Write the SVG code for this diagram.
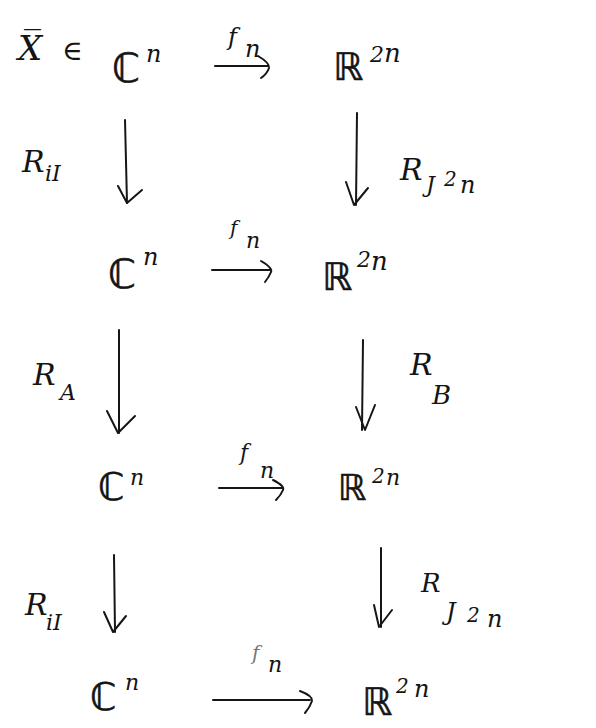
<svg xmlns="http://www.w3.org/2000/svg" width="596" height="728" viewBox="0 0 596 728">
<style>
.t{font-family:"DejaVu Serif","Liberation Serif",serif;font-style:italic;fill:#141414}
.d{font-family:"DejaVu Sans","Noto Sans",sans-serif;fill:#141414;stroke:#141414;stroke-width:0.6}
.c line,.c path{stroke:#151515;stroke-width:2;fill:none;stroke-linecap:round;stroke-linejoin:round}
.faint{fill:#777}
</style>
<rect width="596" height="728" fill="#fff"/>
<g id="row1-x"><text class="t" x="18" y="60" font-size="34">X̅</text><text class="t" x="62" y="60" font-size="28" font-style="normal">∈</text></g>
<g id="c1"><text class="d" x="112" y="82" font-size="40">ℂ</text><text class="t" x="146" y="62" font-size="24">n</text></g>
<g id="r1"><text class="d" x="333" y="80" font-size="38">ℝ</text><text class="t" x="370" y="62" font-size="22">2</text><text class="t" x="384" y="62" font-size="26">n</text></g>
<g id="c2"><text class="d" x="108" y="288" font-size="40">ℂ</text><text class="t" x="143" y="265" font-size="24">n</text></g>
<g id="r2"><text class="d" x="322" y="290" font-size="38">ℝ</text><text class="t" x="357" y="267" font-size="22">2</text><text class="t" x="371" y="270" font-size="26">n</text></g>
<g id="c3"><text class="d" x="98" y="500" font-size="38">ℂ</text><text class="t" x="130" y="485" font-size="22">n</text></g>
<g id="r3"><text class="d" x="338" y="500" font-size="36">ℝ</text><text class="t" x="372" y="483" font-size="20">2</text><text class="t" x="386" y="485" font-size="22">n</text></g>
<g id="c4"><text class="d" x="90" y="710" font-size="38">ℂ</text><text class="t" x="125" y="690" font-size="22">n</text></g>
<g id="r4"><text class="d" x="362" y="715" font-size="38">ℝ</text><text class="t" x="396" y="693" font-size="20">2</text><text class="t" x="414" y="697" font-size="24">n</text></g>
<g id="connectors" class="c">
<line x1="215" y1="66" x2="268" y2="66"/><path d="M258,56 Q270,63 269,68 Q267,74 261,78"/>
<line x1="212" y1="270" x2="270" y2="270"/><path d="M261,261 Q273,268 271,272 Q269,277 265,282"/>
<line x1="219" y1="488" x2="282" y2="488"/><path d="M273,480 Q285,486 283,490 Q281,495 276,500"/>
<line x1="213" y1="700" x2="310" y2="700"/><path d="M300,691 Q313,696 312,701 Q310,707 305,713"/>
<line x1="125" y1="120" x2="127" y2="203"/><path d="M118,186 L127,203 L142,190"/>
<line x1="357" y1="113" x2="356" y2="205"/><path d="M346,182 L354,205 L368,188"/>
<line x1="119" y1="330" x2="119" y2="433"/><path d="M107,411 L118,433 L135,416"/>
<line x1="363" y1="340" x2="362" y2="430"/><path d="M356,407 L365,430 L375,405"/>
<line x1="114" y1="555" x2="115" y2="632" stroke-width="2.6"/><path d="M104,612 L113,632 L126,616" stroke-width="2.6"/>
<line x1="381" y1="548" x2="381" y2="627"/><path d="M374,605 L379,627 L392,610" stroke-width="2.6"/>
</g>
<g id="labels">
<text class="t" x="228" y="45" font-size="24">f</text><text class="t" x="245" y="57" font-size="24">n</text>
<text class="t" x="230" y="235" font-size="20">f</text><text class="t" x="246" y="248" font-size="22">n</text>
<text class="t" x="240" y="460" font-size="22">f</text><text class="t" x="260" y="478" font-size="22">n</text>
<text class="t faint" x="252" y="660" font-size="20">f</text><text class="t" x="268" y="672" font-size="22">n</text>
<text class="t" x="22" y="172" font-size="30">R</text><text class="t" x="45" y="181" font-size="22">iI</text>
<text class="t" x="400" y="180" font-size="30">R</text><text class="t" x="426" y="192" font-size="22">J</text><text class="t" x="444" y="186" font-size="20">2</text><text class="t" x="460" y="193" font-size="24">n</text>
<text class="t" x="33" y="385" font-size="30">R</text><text class="t" x="60" y="400" font-size="22">A</text>
<text class="t" x="410" y="375" font-size="30">R</text><text class="t" x="432" y="404" font-size="26">B</text>
<text class="t" x="25" y="615" font-size="30">R</text><text class="t" x="46" y="630" font-size="22">iI</text>
<text class="t" x="421" y="592" font-size="26">R</text><text class="t" x="446" y="620" font-size="24">J</text><text class="t" x="467" y="622" font-size="20">2</text><text class="t" x="487" y="627" font-size="24">n</text>
</g>
</svg>
